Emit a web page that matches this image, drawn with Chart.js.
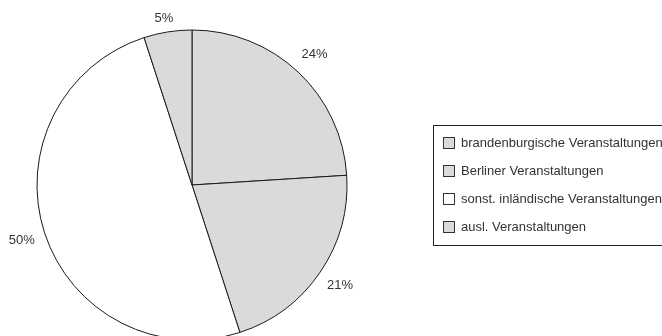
<!DOCTYPE html>
<html>
<head>
<meta charset="utf-8">
<script src="https://cdn.jsdelivr.net/npm/chart.js@4"></script>
<style>
  html, body { margin: 0; padding: 0; background: #fff; overflow: hidden; }
  #wrap { position: absolute; left: 0; top: 0; width: 662px; height: 370px; }
</style>
</head>
<body>
<div id="wrap"><canvas id="pie"></canvas></div>
<script>
// Anteile der Veranstaltungen
const categories = [
    'brandenburgische Veranstaltungen',
    'Berliner Veranstaltungen',
    'sonst. inländische Veranstaltungen',
    'ausl. Veranstaltungen'
];
const shares = [24, 21, 50, 5];
const fills = ['#dadadb', '#dadadb', '#ffffff', '#dadadb'];

const FONT = '13px "Liberation Sans", Arial, sans-serif';

// percent labels outside the slices
const sliceLabels = {
    id: 'sliceLabels',
    afterDatasetsDraw(chart) {
        const ctx = chart.ctx;
        const meta = chart.getDatasetMeta(0);
        ctx.save();
        ctx.font = FONT;
        ctx.fillStyle = '#333';
        ctx.textAlign = 'center';
        ctx.textBaseline = 'middle';
        meta.data.forEach((arc, i) => {
            const mid = (arc.startAngle + arc.endAngle) / 2;
            const r = arc.outerRadius + 24;
            const x = arc.x + Math.cos(mid) * r;
            const y = Math.max(18, arc.y + Math.sin(mid) * r);
            ctx.fillText(shares[i] + '%', x, y);
        });
        ctx.restore();
    }
};

// boxed legend on the right
const boxLegend = {
    id: 'boxLegend',
    afterDraw(chart) {
        const ctx = chart.ctx;
        const ds = chart.data.datasets[0];
        ctx.save();
        ctx.strokeStyle = '#222';
        ctx.lineWidth = 1;
        ctx.strokeRect(433.5, 125.5, 240, 120);
        ctx.font = FONT;
        ctx.textBaseline = 'middle';
        chart.data.labels.forEach((label, i) => {
            const y = 143 + i * 28;
            ctx.fillStyle = ds.backgroundColor[i];
            ctx.fillRect(443.5, y - 5.5, 11, 11);
            ctx.strokeStyle = '#333';
            ctx.strokeRect(443.5, y - 5.5, 11, 11);
            ctx.fillStyle = '#333';
            ctx.fillText(label, 461, y + 0.5);
        });
        ctx.restore();
    }
};

new Chart(document.getElementById('pie'), {
    type: 'pie',
    data: {
        labels: categories,
        datasets: [{
            data: shares,
            backgroundColor: fills,
            borderColor: '#1a1a1a',
            borderWidth: 1,
            hoverOffset: 0,
            radius: 155
        }]
    },
    options: {
        responsive: true,
        maintainAspectRatio: false,
        animation: false,
        layout: { padding: { left: 0, top: 0, right: 278, bottom: 0 } },
        plugins: {
            legend: { display: false },
            tooltip: { enabled: false }
        }
    },
    plugins: [sliceLabels, boxLegend]
});
</script>
</body>
</html>
